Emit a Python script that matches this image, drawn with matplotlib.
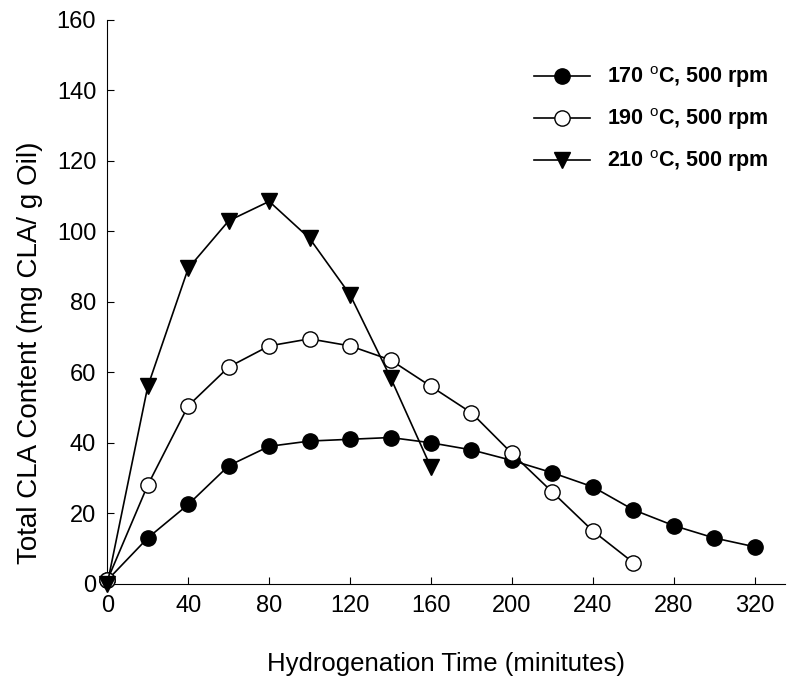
import matplotlib
matplotlib.use('Agg')
import matplotlib.pyplot as plt

plt.rcParams['font.family'] = ['Liberation Sans', 'DejaVu Sans']
plt.rcParams['mathtext.fontset'] = 'custom'
plt.rcParams['mathtext.rm'] = 'Liberation Sans'

time_170 = [0, 20, 40, 60, 80, 100, 120, 140, 160, 180, 200, 220, 240, 260, 280, 300, 320]
cla_170 = [1, 13, 22.5, 33.5, 39, 40.5, 41, 41.5, 40, 38, 35, 31.5, 27.5, 21, 16.5, 13, 10.5]

time_190 = [0, 20, 40, 60, 80, 100, 120, 140, 160, 180, 200, 220, 240, 260]
cla_190 = [1, 28, 50.5, 61.5, 67.5, 69.5, 67.5, 63.5, 56, 48.5, 37, 26, 15, 6]

time_210 = [0, 20, 40, 60, 80, 100, 120, 140, 160]
cla_210 = [0, 56, 89.5, 103, 108.5, 98, 82, 58.5, 33]

labels = [r'170 $^{\mathrm{o}}$C, 500 rpm',
          r'190 $^{\mathrm{o}}$C, 500 rpm',
          r'210 $^{\mathrm{o}}$C, 500 rpm']

fig = plt.figure(figsize=(7.89, 6.86), dpi=100)
ax = fig.add_axes([0.136, 0.149, 0.859, 0.822])

ax.plot(time_170, cla_170, color='black', lw=1.2, marker='o', ms=11,
        mfc='black', mec='black', label=labels[0], clip_on=False, zorder=3)
ax.plot(time_190, cla_190, color='black', lw=1.2, marker='o', ms=11,
        mfc='white', mec='black', label=labels[1], clip_on=False, zorder=3)
ax.plot(time_210, cla_210, color='black', lw=1.2, marker='v', ms=12,
        mfc='black', mec='black', label=labels[2], clip_on=False, zorder=3)

ax.set_xlim(0, 335)
ax.set_ylim(0, 160)
ax.set_xticks(range(0, 321, 40))
ax.set_yticks(range(0, 161, 20))
ax.spines['top'].set_visible(False)
ax.spines['right'].set_visible(False)
ax.tick_params(direction='in', labelsize=17, length=5, pad=8)

ax.set_xlabel('Hydrogenation Time (minitutes)', fontsize=18.5, labelpad=25)
ax.set_ylabel('Total CLA Content (mg CLA/ g Oil)', fontsize=20)
ax.yaxis.set_label_coords(-0.095, 0.41)

leg = ax.legend(loc='upper right', bbox_to_anchor=(1.005, 0.955), frameon=False,
                prop={'size': 15.5, 'weight': 'bold'}, handlelength=2.6,
                labelspacing=0.75, handletextpad=0.8)

fig.savefig('out.png', dpi=100)
